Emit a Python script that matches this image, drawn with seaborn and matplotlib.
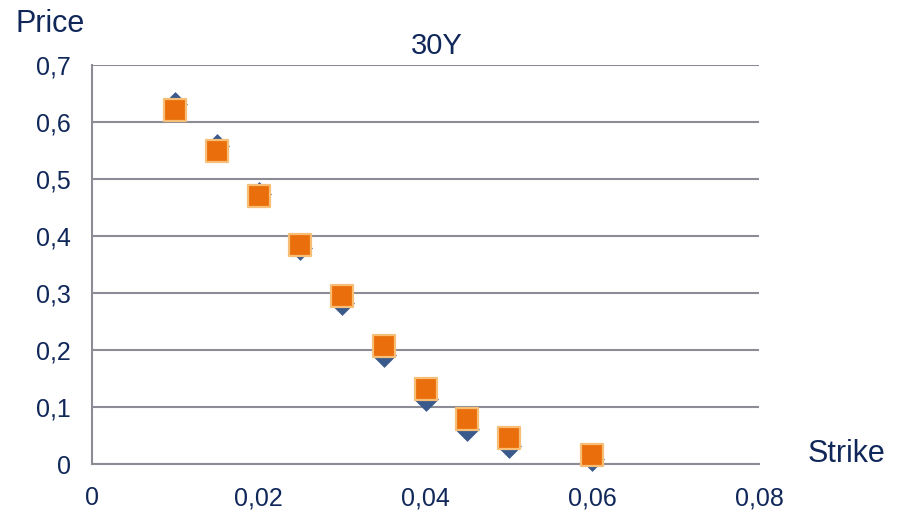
import matplotlib
matplotlib.use("Agg")
import matplotlib.pyplot as plt
import matplotlib.ticker as mticker
import seaborn as sns
import pandas as pd

strikes = [0.01, 0.015, 0.02, 0.025, 0.03, 0.035, 0.04, 0.045, 0.05, 0.06]
market_price = [0.632, 0.558, 0.473, 0.379, 0.282, 0.191, 0.114, 0.061, 0.032, 0.009]
model_price = [0.621, 0.549, 0.470, 0.384, 0.295, 0.207, 0.132, 0.079, 0.046, 0.016]
x_ticks = [0, 0.02, 0.04, 0.06, 0.08]
y_ticks = [0, 0.1, 0.2, 0.3, 0.4, 0.5, 0.6, 0.7]

df = pd.concat([
    pd.DataFrame({"Strike": strikes, "Price": market_price, "series": "Market"}),
    pd.DataFrame({"Strike": strikes, "Price": model_price, "series": "Model"}),
])

sns.set_theme(style="white")
plt.rcParams["font.family"] = ["Liberation Sans", "DejaVu Sans"]

TEXT = "#10275A"
GRID = "#8C8C96"

fig = plt.figure(figsize=(9.09, 5.12), dpi=100)
ax = fig.add_axes([92 / 909, 1 - 464 / 512, (759 - 92) / 909, (464 - 65) / 512])

market = df[df["series"] == "Market"]
model = df[df["series"] == "Model"]
sns.scatterplot(data=market, x="Strike", y="Price", marker="D", s=160,
                color="#3A5A8C", edgecolor="#3A5A8C", linewidth=0, ax=ax,
                zorder=3, clip_on=False)
sns.scatterplot(data=model, x="Strike", y="Price", marker="s", s=230,
                color="#EA6F0C", edgecolor="#F7BE78", linewidth=1.6, ax=ax,
                zorder=4, clip_on=False)

ax.set_xlim(0, 0.08)
ax.set_ylim(0, 0.7)
ax.set_xticks(x_ticks)
ax.set_yticks(y_ticks)
fmt = mticker.FuncFormatter(lambda v, p: ("%g" % round(v, 4)).replace(".", ","))
ax.xaxis.set_major_formatter(fmt)
ax.yaxis.set_major_formatter(fmt)
ax.set_xlabel("")
ax.set_ylabel("")

ax.grid(axis="y", color=GRID, linewidth=1.5)
ax.set_axisbelow(True)
for side in ["top", "right"]:
    ax.spines[side].set_visible(False)
for side in ["left", "bottom"]:
    ax.spines[side].set_color(GRID)
    ax.spines[side].set_linewidth(1.5)
ax.tick_params(axis="both", which="major", direction="out", length=6, width=1.5,
               color=GRID, labelcolor=TEXT, labelsize=18)
ax.tick_params(axis="y", pad=9)
ax.tick_params(axis="x", pad=10)

fig.text(16 / 909, 1 - 24 / 512, "Price", fontsize=22, color=TEXT, ha="left", va="center")
fig.text(808 / 909, 1 - 454 / 512, "Strike", fontsize=22, color=TEXT, ha="left", va="center")
fig.text(437 / 909, 1 - 46 / 512, "30Y", fontsize=21, color=TEXT, ha="center", va="center")

fig.savefig("out.png", dpi=100)
